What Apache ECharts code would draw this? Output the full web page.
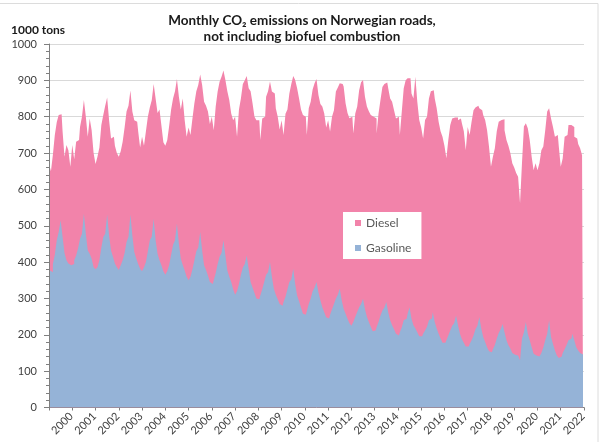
<!DOCTYPE html>
<html>
<head>
  <meta charset="utf-8" />
  <title>Monthly CO2 emissions on Norwegian roads</title>
  <script src="https://cdn.jsdelivr.net/npm/echarts@6/dist/echarts.min.js"></script>
  <style>
    html, body { margin: 0; padding: 0; background: #fff; }
  </style>
</head>
<body>
<div id="main" style="width:603px;height:442px;"></div>
<script type="text/javascript">
  // years on the axis, one row of 12 months per year below
  var years = [2000, 2001, 2002, 2003, 2004, 2005, 2006, 2007, 2008, 2009, 2010, 2011,
               2012, 2013, 2014, 2015, 2016, 2017, 2018, 2019, 2020, 2021, 2022];

  // 1000 tons CO2 per month, Jan..Dec
  var gasoline = [
    377, 372, 395, 420, 460, 483, 515, 470, 425, 405, 396, 391, // 2000
    395, 405, 418, 438, 464, 478, 533, 478, 432, 423, 409, 386, // 2001
    380, 386, 405, 440, 469, 478, 531, 473, 432, 415, 396, 386, // 2002
    378, 391, 405, 425, 455, 470, 531, 473, 428, 410, 395, 382, // 2003
    375, 386, 400, 430, 460, 470, 519, 460, 423, 405, 391, 375, // 2004
    365, 375, 392, 420, 448, 460, 506, 451, 409, 392, 377, 360, // 2005
    350, 360, 380, 405, 430, 440, 483, 432, 391, 378, 363, 345, // 2006
    340, 350, 370, 395, 415, 425, 460, 418, 377, 360, 345, 325, // 2007
    310, 320, 340, 365, 385, 395, 418, 380, 345, 330, 315, 300, // 2008
    298, 308, 325, 345, 365, 372, 400, 359, 327, 310, 298, 285, // 2009
    280, 290, 305, 325, 345, 352, 382, 340, 308, 292, 275, 258, // 2010
    255, 265, 285, 300, 320, 330, 345, 317, 295, 276, 262, 248, // 2011
    245, 255, 270, 285, 300, 310, 327, 295, 272, 258, 244, 232, // 2012
    225, 235, 250, 263, 276, 285, 299, 270, 250, 235, 222, 210, // 2013
    212, 221, 235, 253, 267, 275, 290, 262, 240, 226, 215, 203, // 2014
    198, 207, 221, 240, 244, 258, 276, 244, 226, 217, 207, 196, // 2015
    196, 203, 212, 222, 240, 245, 262, 235, 217, 203, 190, 178, // 2016
    178, 185, 198, 212, 225, 232, 253, 226, 203, 188, 178, 168, // 2017
    168, 175, 185, 198, 215, 225, 249, 217, 194, 180, 166, 155, // 2018
    152, 160, 172, 190, 205, 215, 230, 207, 185, 171, 162, 150, // 2019
    145, 143, 148, 130, 190, 207, 235, 203, 185, 166, 148, 143, // 2020
    140, 143, 150, 165, 185, 203, 240, 194, 175, 157, 143, 136, // 2021
    140, 150, 160, 172, 185, 190, 203, 185, 166, 157, 150, 146  // 2022
  ];

  var diesel = [
    283, 278, 300, 330, 325, 322, 292, 290, 265, 317, 312, 271, // 2000
    327, 278, 313, 298, 308, 322, 313, 322, 313, 372, 354, 314, // 2001
    290, 304, 310, 337, 336, 352, 322, 317, 308, 330, 324, 314, // 2002
    312, 314, 326, 345, 359, 360, 341, 341, 362, 376, 365, 333, // 2003
    370, 334, 360, 370, 365, 375, 371, 390, 387, 415, 384, 355, // 2004
    355, 360, 383, 400, 402, 410, 398, 404, 411, 458, 413, 385, // 2005
    420, 390, 415, 432, 440, 447, 433, 455, 450, 452, 451, 435, // 2006
    460, 413, 458, 474, 481, 485, 467, 483, 493, 486, 464, 465, // 2007
    490, 425, 480, 485, 505, 505, 494, 498, 525, 507, 485, 490, // 2008
    492, 428, 470, 455, 490, 498, 497, 510, 537, 513, 502, 480, // 2009
    510, 460, 503, 495, 519, 538, 530, 561, 570, 558, 545, 547, // 2010
    545, 485, 538, 541, 555, 562, 559, 543, 540, 552, 547, 522, // 2011
    545, 504, 530, 533, 569, 570, 565, 595, 611, 579, 566, 564, // 2012
    575, 519, 559, 565, 597, 610, 602, 585, 578, 580, 583, 590, // 2013
    583, 533, 574, 593, 615, 615, 604, 616, 610, 615, 603, 592, // 2014
    602, 543, 593, 638, 656, 648, 630, 620, 624, 693, 634, 595, // 2015
    574, 537, 579, 578, 610, 625, 611, 615, 606, 583, 570, 567, // 2016
    542, 501, 538, 565, 570, 566, 545, 564, 592, 594, 582, 540, // 2017
    604, 575, 601, 620, 610, 605, 574, 601, 611, 611, 597, 562, // 2018
    510, 530, 541, 570, 581, 576, 563, 556, 551, 549, 538, 522, // 2019
    515, 502, 487, 432, 482, 566, 547, 565, 551, 524, 505, 529, // 2020
    513, 529, 558, 553, 578, 611, 583, 601, 597, 588, 607, 582, // 2021
    522, 535, 585, 578, 592, 587, 569, 560, 574, 568, 563, 548  // 2022
  ];

  var yTicks = [0, 100, 200, 300, 400, 500, 600, 700, 800, 900, 1000];

  // one category per month: "2000-01" ... "2022-12"
  var months = [];
  years.forEach(function (y) {
    for (var m = 1; m <= 12; m++) {
      months.push(y + '-' + (m < 10 ? '0' + m : m));
    }
  });

  // diesel sits on top of gasoline: draw its upper edge (gasoline + diesel)
  // behind the gasoline area, so the two fills meet without a seam
  var dieselTop = diesel.map(function (d, i) { return d + gasoline[i]; });

  var font = 'Lato, "Liberation Sans", sans-serif';

  var myChart = echarts.init(document.getElementById('main'), null, { renderer: 'canvas' });
  var option = {
    backgroundColor: '#fff',
    animation: false,
    title: [
      {
        text: 'Monthly CO\u2082 emissions on Norwegian roads,\nnot including biofuel combustion',
        left: 297,
        top: 8,
        textAlign: 'center',
        textStyle: { fontFamily: font, fontSize: 13.5, fontWeight: 'bold', color: '#1a1a1a', lineHeight: 16 }
      },
      {
        text: '1000 tons',
        left: 6,
        top: 19,
        textStyle: { fontFamily: font, fontSize: 12, fontWeight: 'bold', color: '#1a1a1a' }
      }
    ],
    graphic: [
      {
        type: 'rect',
        shape: { x: -1, y: 3.5, width: 599, height: 450 },
        style: { fill: 'none', stroke: '#dcdcdc', lineWidth: 1 },
        silent: true
      }
    ],
    legend: {
      data: ['Diesel', 'Gasoline'],
      orient: 'vertical',
      left: 343,
      top: 212,
      backgroundColor: '#fff',
      padding: [3, 10, 3, 12],
      itemGap: 9,
      itemWidth: 6,
      itemHeight: 6,
      icon: 'rect',
      textStyle: { fontFamily: font, fontSize: 12, color: '#595959', lineHeight: 16 }
    },
    grid: { left: 49, right: 19, top: 44, bottom: 34.5, containLabel: false },
    xAxis: {
      type: 'category',
      data: months,
      boundaryGap: true,
      axisLine: { lineStyle: { color: '#7f7f7f', width: 1 } },
      axisTick: {
        show: true,
        length: 3,
        alignWithLabel: false,
        interval: function (index) { return index % 12 === 0; },
        lineStyle: { color: '#7f7f7f' }
      },
      splitLine: { show: false },
      axisLabel: {
        rotate: 45,
        margin: 7,
        fontFamily: font,
        fontSize: 11,
        color: '#404040',
        interval: function (index) { return index % 12 === 11; },
        formatter: function (v) { return v.slice(0, 4); }
      }
    },
    yAxis: {
      type: 'value',
      min: yTicks[0],
      max: yTicks[yTicks.length - 1],
      interval: 100,
      axisLine: { show: true, lineStyle: { color: '#7f7f7f', width: 1 } },
      axisTick: { show: true, length: 5, lineStyle: { color: '#7f7f7f' } },
      minorTick: { show: true, splitNumber: 5, length: 3, lineStyle: { color: '#7f7f7f' } },
      splitLine: { show: true, lineStyle: { color: '#d9d9d9', width: 1 } },
      axisLabel: {
        margin: 12, fontFamily: font, fontSize: 11, color: '#404040',
        formatter: function (v) { return String(v); }
      }
    },
    series: [
      {
        name: 'Diesel',
        type: 'line',
        step: 'middle',
        symbol: 'none',
        z: 2,
        lineStyle: { width: 0 },
        itemStyle: { color: '#F283AA' },
        areaStyle: { color: '#F283AA', opacity: 1 },
        data: dieselTop
      },
      {
        name: 'Gasoline',
        type: 'line',
        step: 'middle',
        symbol: 'none',
        z: 3,
        lineStyle: { width: 0 },
        itemStyle: { color: '#95B3D7' },
        areaStyle: { color: '#95B3D7', opacity: 1 },
        data: gasoline
      }
    ]
  };
  myChart.setOption(option);
</script>
</body>
</html>
